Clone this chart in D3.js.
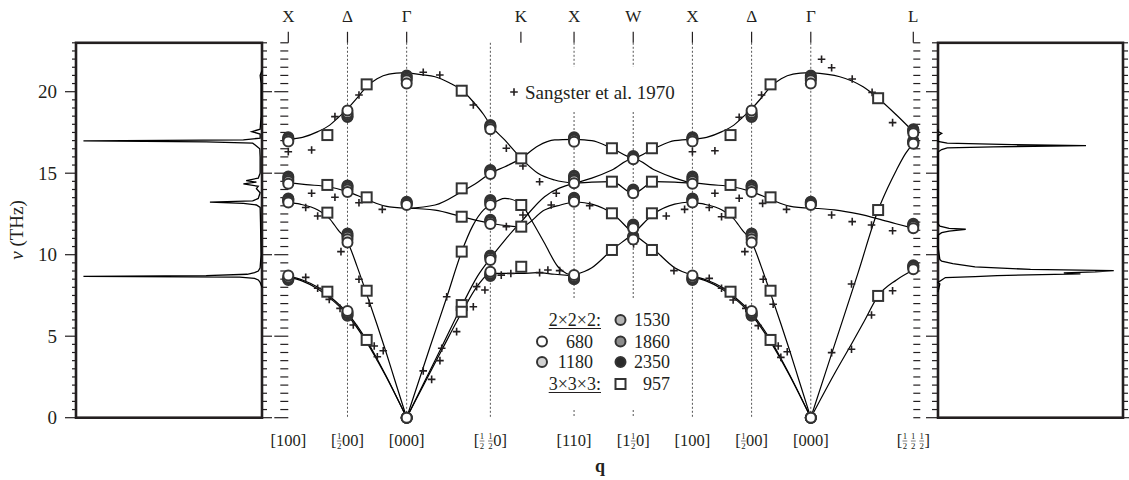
<!DOCTYPE html>
<html><head><meta charset="utf-8">
<script src="https://cdn.jsdelivr.net/npm/d3@7"></script>
<style>
body{margin:0;background:#fff}
text{font-family:"Liberation Serif","Times New Roman",serif;fill:#231f20}
</style></head>
<body><svg id="c" width="1129" height="480"></svg>
<script>
// ---------------- DATA ----------------
const specialQ   = [0, 0.5, 1, 1.707, 1.965, 2.414, 2.914, 3.414, 3.914, 4.414, 5.28];
const topLabels  = ["X","Δ","Γ","","K","X","W","X","Δ","Γ","L"];
// bottom labels: tokens, {f:[num,den]} = stacked fraction, null = no label
const bottomLabels = [
  ["[100]"], ["[", {f:["1","2"]}, "00]"], ["[000]"],
  ["[", {f:["1","2"]}, {sp:3}, {f:["1","2"]}, "0]"], null, ["[110]"],
  ["[1", {f:["1","2"]}, "0]"], ["[100]"], ["[", {f:["1","2"]}, "00]"], ["[000]"],
  ["[", {f:["1","2"]}, {sp:3}, {f:["1","2"]}, {sp:3}, {f:["1","2"]}, "]"]
];
const dottedAt = [0.5, 1, 1.707, 2.414, 2.914, 3.414, 3.914, 4.414];
const yTicksMajor = [0, 5, 10, 15, 20];

// Lattice-dynamics curves, per path segment (local q from segment start)
const segXG_start = [0, 3.414];     // X -> Delta -> Gamma
const segGK_start = [1.0];          // Gamma -> [1/2 1/2 0] -> K -> X
const segXW_start = [2.414];        // X -> W -> X
const segGL_start = [4.414];        // Gamma -> L

const XG_LO  = [[0,17.08],[0.12,17.2],[0.25,17.55],[0.35,17.95],[0.42,18.4],[0.5,18.95],[0.58,19.6],[0.66,20.3],[0.75,20.8],[0.85,21.08],[1,21.17]];
const XG_TO  = [[0,14.42],[0.15,14.3],[0.34,14.17],[0.5,13.87],[0.66,13.4],[0.82,12.98],[1,12.85]];
const XG_LA  = [[0,13.21],[0.1,13.1],[0.25,12.74],[0.35,12.2],[0.42,11.52],[0.5,10.8],[0.58,9.3],[0.66,7.63],[0.75,5.7],[0.82,4.15],[0.9,2.3],[1,0]];
const XG_TA1 = [[0,8.69],[0.12,8.45],[0.25,8.0],[0.35,7.45],[0.5,6.42],[0.66,4.77],[0.82,2.65],[1,0]];
const XG_TA2 = [[0,8.62],[0.12,8.38],[0.25,7.9],[0.35,7.35],[0.5,6.3],[0.66,4.65],[0.82,2.6],[1,0]];

const GK_LO  = [[0,21.17],[0.12,21.05],[0.24,20.92],[0.36,20.55],[0.465,20.1],[0.56,19.4],[0.65,18.6],[0.707,17.96],[0.828,17.04],[0.968,15.91],[1.109,15.0],[1.25,14.58],[1.414,14.38]];
const GK_TO1 = [[0,12.85],[0.24,13.05],[0.465,13.87],[0.6,14.45],[0.707,15.0],[0.83,15.4],[0.968,15.91],[1.109,16.67],[1.25,17.04],[1.414,17.08]];
const GK_TO2 = [[0,12.85],[0.24,12.74],[0.465,12.33],[0.707,11.93],[0.968,11.72],[1.165,12.74],[1.3,13.05],[1.414,13.25]];
const GK_LA  = [[0,0],[0.2,4.4],[0.34,7.42],[0.465,10.19],[0.56,11.8],[0.65,12.75],[0.707,13.05],[0.83,13.46],[0.968,13.1],[1.053,12.13],[1.165,10.7],[1.278,9.26],[1.35,8.85],[1.414,8.75]];
const GK_TA1 = [[0,0],[0.15,2.2],[0.3,4.4],[0.465,6.85],[0.6,8.7],[0.707,9.78],[0.83,10.9],[0.968,12.03],[1.165,13.56],[1.414,14.38]];
const GK_TA2 = [[0,0],[0.15,2.1],[0.3,4.2],[0.465,6.45],[0.6,8.1],[0.707,8.86],[0.85,8.85],[0.968,8.85],[1.1,8.9],[1.25,8.8],[1.414,8.7]];

const XW_U1 = [[0,17.08],[0.15,17.0],[0.32,16.53],[0.5,15.95],[0.68,16.53],[0.85,17.0],[1,17.08]];
const XW_U2 = [[0,14.38],[0.15,14.7],[0.32,15.2],[0.5,15.9],[0.68,15.2],[0.85,14.7],[1,14.38]];
const XW_M  = [[0,14.38],[0.15,14.45],[0.32,14.48],[0.5,13.77],[0.68,14.48],[0.85,14.45],[1,14.38]];
const XW_L1 = [[0,13.25],[0.15,13.1],[0.32,12.54],[0.5,11.3],[0.68,10.29],[0.85,9.2],[1,8.75]];
const XW_L2 = [[0,8.75],[0.15,9.2],[0.32,10.29],[0.5,11.3],[0.68,12.54],[0.85,13.1],[1,13.25]];

const GL_LO = [[0,21.17],[0.245,20.92],[0.442,20.3],[0.569,19.6],[0.724,18.57],[0.866,17.55]];
const GL_TO = [[0,12.85],[0.2,12.75],[0.4,12.5],[0.569,12.2],[0.72,11.9],[0.866,11.62]];
const GL_LA = [[0,0],[0.2,4.45],[0.4,8.9],[0.569,12.74],[0.65,14.1],[0.724,15.2],[0.8,16.2],[0.866,16.83]];
const GL_TA = [[0,0],[0.2,2.7],[0.35,4.6],[0.45,5.9],[0.569,7.47],[0.724,8.45],[0.866,9.06]];

// Sangster et al. 1970 (absolute q, THz)
const sangster = [
 [1.14,21.19],[1.28,21.02],[0.597,19.8],[0.394,18.47],[1.563,19.18],[0.197,16.42],[0.0,16.32],[0.197,13.77],[0.394,13.52],[0.597,13.19],
 [0.794,12.78],[0.147,12.9],[0.248,12.37],[0.445,10.19],[0.597,8.49],[0.684,7.02],[0.147,8.61],[0.248,7.94],[0.346,7.26],[0.437,6.71],
 [0.549,5.69],[0.726,4.4],[0.802,4.11],[0.752,3.74],[1.338,7.42],[1.422,5.28],[1.296,4.26],[1.281,3.5],[1.14,2.87],[1.211,2.35],
 [1.591,8.04],[1.661,7.83],[1.563,6.81],
 [1.842,16.53],[1.982,15.44],[2.123,14.48],[2.264,13.77],[2.221,13.05],[1.982,12.44],[1.842,11.72],[1.799,8.75],[1.88,8.85],
 [2.123,8.9],[2.193,9.06],[2.292,9.02],[2.546,13.01],[2.917,10.66],[3.193,12.37],[3.348,12.78],[3.258,9.02],[3.414,16.32],
 [4.505,21.99],[4.59,21.47],[4.764,20.78],[4.932,19.96],[5.105,18.1],[3.998,19.8],[3.809,18.43],[3.604,16.38],[3.604,13.77],
 [3.809,13.46],[4.007,13.15],[4.209,12.78],[3.556,12.9],[3.66,12.33],[3.857,10.19],[4.012,8.49],[4.096,6.96],[3.556,8.55],
 [3.66,7.94],[3.758,7.22],[3.865,6.71],[3.97,5.65],[4.139,4.4],[4.215,4.05],[4.161,3.7],[4.59,12.44],[4.764,12.03],[4.927,11.82],
 [5.105,11.47],[4.758,8.2],[4.59,3.99],[4.758,4.2],[4.927,6.3],[5.105,7.79]
];

// 3x3x3 MD, 957 K
const md957 = [
 [0.662,20.45],[0.33,17.34],[1.465,20.06],[0.33,14.28],[0.662,13.52],[0.33,12.58],[1.465,14.07],[1.465,12.33],[1.465,10.19],
 [0.33,7.73],[0.662,7.79],[0.662,4.77],[1.465,6.91],[1.465,6.5],
 [1.968,15.91],[1.968,13.05],[1.968,11.72],[1.968,9.26],
 [2.734,16.53],[3.072,16.53],[2.734,14.48],[3.072,14.48],[2.734,12.54],[3.072,12.54],[2.734,10.29],[3.072,10.29],
 [4.074,20.45],[3.736,17.34],[4.983,19.6],[3.736,14.28],[4.074,13.52],[3.736,12.58],[4.983,12.74],[3.736,7.73],[4.074,7.79],
 [4.074,4.77],[4.983,7.47]
];

// 2x2x2 MD at special points
const mdQ = [0,0,0,0, 0.5,0.5,0.5,0.5, 1,1,1, 1.707,1.707,1.707,1.707,1.707,1.707,
             2.414,2.414,2.414,2.414, 2.914,2.914,2.914,2.914, 3.414,3.414,3.414,3.414,
             3.914,3.914,3.914,3.914, 4.414,4.414,4.414, 5.28,5.28,5.28,5.28];
const md2350 = [17.2,14.8,13.45,8.45, 18.45,14.25,11.3,6.25, 21.0,13.25,0, 17.95,15.2,13.35,12.15,9.95,8.7,
                17.2,14.85,13.5,8.5, 16.05,14.0,11.85,11.15, 17.2,14.8,13.45,8.45, 18.45,14.25,11.3,6.25, 21.0,13.25,0, 17.7,17.0,11.9,9.35];
const md1860 = [17.15,14.7,13.4,8.5, 18.5,14.2,11.2,6.3, 20.9,13.2,0, 17.9,15.15,13.3,12.1,9.9,8.75,
                17.15,14.75,13.45,8.55, 16.0,13.95,11.8,11.1, 17.15,14.7,13.4,8.5, 18.5,14.2,11.2,6.3, 20.9,13.2,0, 17.65,16.95,11.85,9.3];
const md1530 = [17.1,14.6,13.35,8.55, 18.6,14.1,11.1,6.4, 20.8,13.15,0, 17.85,15.1,13.2,12.05,9.85,8.8,
                17.1,14.65,13.4,8.6, 15.95,13.9,11.75,11.05, 17.1,14.6,13.35,8.55, 18.6,14.1,11.1,6.4, 20.8,13.15,0, 17.6,16.9,11.8,9.25];
const md1180 = [17.05,14.5,13.3,8.6, 18.7,14.0,10.95,6.45, 20.7,13.1,0, 17.8,15.05,13.15,12.0,9.8,8.85,
                17.05,14.55,13.35,8.65, 15.9,13.85,11.7,11.0, 17.05,14.5,13.3,8.6, 18.7,14.0,10.95,6.45, 20.7,13.1,0, 17.55,16.85,11.75,9.2];
const md680  = [16.95,14.35,13.2,8.72, 18.85,13.85,10.75,6.55, 20.5,13.05,0, 17.7,14.95,13.05,11.88,9.67,8.95,
                16.93,14.38,13.25,8.75, 15.85,13.77,11.62,10.94, 16.95,14.35,13.2,8.72, 18.85,13.85,10.75,6.55, 20.5,13.05,0, 17.45,16.8,11.62,9.1];
const mdTemps = ["2350","1860","1530","1180","680"];

// densities of states [frequency THz, relative density]
const dosLeft = [[8.0,0],[8.3,0.01],[8.45,0.02],[8.55,0.04],[8.62,0.12],[8.67,0.96],[8.72,0.3],[8.8,0.08],[8.9,0.04],[9.0,0.02],[9.2,0.01],
 [10,0.005],[12,0.008],[12.9,0.01],[13.05,0.03],[13.15,0.1],[13.23,0.28],[13.3,0.05],[13.45,0.02],[13.8,0.01],[14.05,0.03],[14.2,0.02],
 [14.35,0.1],[14.45,0.03],[14.55,0.085],[14.7,0.02],[15,0.01],[16.0,0.01],[16.5,0.012],[16.72,0.035],[16.84,0.05],[16.92,0.3],[16.98,0.96],
 [17.05,0.1],[17.15,0.01],[17.4,0.01],[17.55,0.055],[17.7,0.01],[18.5,0.005],[20.5,0.005],[21,0.01],[21.3,0]];
const dosRight = [[7.7,0],[8.2,0.01],[8.3,0.0],[8.45,0.02],[8.6,0.04],[8.66,0.2],[8.72,0.32],[8.82,0.77],[8.88,0.68],[8.95,0.85],[9.02,0.95],
 [9.1,0.5],[9.25,0.2],[9.45,0.08],[9.6,0.02],[9.7,0.01],[10.5,0.0],[11.2,0.0],[11.35,0.02],[11.45,0.06],[11.56,0.15],[11.62,0.06],
 [11.75,0.01],[11.9,0.0],[16.3,0.0],[16.45,0.02],[16.55,0.05],[16.62,0.3],[16.69,0.8],[16.75,0.4],[16.85,0.05],[16.95,0.0],[17.3,0.0],
 [17.45,0.02],[17.55,0.0],[17.7,0]];

// ---------------- DRAWING ----------------
const svg = d3.select("#c");
const INK = "#231f20";
const y = d3.scaleLinear().domain([0,23]).range([417.7,42.8]);
const x = d3.scaleLinear().domain([0,5.28]).range([288.3,913.3]);
const xl = d3.scaleLinear().domain([0,1]).range([262,76]);
const xr = d3.scaleLinear().domain([0,1]).range([938,1123]);
const yTicks = d3.range(0,23.01,0.5);

function frame(x0,x1){
  svg.append("rect").attr("x",x0).attr("y",y(23)).attr("width",x1-x0).attr("height",y(0)-y(23))
    .attr("fill","none").attr("stroke",INK).attr("stroke-width",2.6);
}
function ticks(xpos, dir, lenMinor, lenMajor){
  svg.append("g").selectAll("line").data(yTicks).join("line")
    .attr("x1",xpos).attr("x2",d=>xpos+dir*(d%5===0?lenMajor:lenMinor))
    .attr("y1",d=>y(d)).attr("y2",d=>y(d)).attr("stroke",INK).attr("stroke-width",1.2);
}

// left DOS panel
frame(76,262);
ticks(76,-1,4,11);
ticks(262,1,5,10);
svg.append("g").selectAll("text").data(yTicksMajor).join("text")
  .attr("x",57).attr("y",d=>y(d)+6.5).attr("text-anchor","end").attr("font-size",19).text(d=>d);
svg.append("text").attr("transform","translate(23,230) rotate(-90)").attr("text-anchor","middle").attr("font-size",19)
  .call(t=>{t.append("tspan").attr("font-style","italic").text("ν");t.append("tspan").text(" (THz)");});
svg.append("path").datum(dosLeft).attr("fill","none").attr("stroke","#000").attr("stroke-width",1.3)
  .attr("d",d3.line().x(d=>xl(d[1])).y(d=>y(d[0])));

// right DOS panel
frame(938,1123);
ticks(938,-1,6,12);
ticks(1123,1,5,10);
svg.append("path").datum(dosRight).attr("fill","none").attr("stroke","#000").attr("stroke-width",1.3)
  .attr("d",d3.line().x(d=>xr(d[1])).y(d=>y(d[0])));

// main panel ticks
ticks(288.3,-1,8,14);
ticks(913.3,1,7,7);

// dotted verticals (with gaps behind the legends)
const gapped = {"2.414":true,"2.914":true};
dottedAt.forEach(q=>{
  const segs = gapped[q] ? [[y(23),67],[112,298],[410,y(0)]] : [[y(23),y(0)]];
  segs.forEach(s=>svg.append("line").attr("x1",x(q)).attr("x2",x(q)).attr("y1",s[0]).attr("y2",s[1])
    .attr("stroke","#555").attr("stroke-width",1).attr("stroke-dasharray","2,2"));
});

// top ticks + labels
specialQ.forEach((q,i)=>{
  if(!topLabels[i]) return;
  svg.append("line").attr("x1",x(q)).attr("x2",x(q)).attr("y1",y(23)).attr("y2",y(23)-11).attr("stroke",INK).attr("stroke-width",1.2);
  svg.append("text").attr("x",x(q)).attr("y",22).attr("text-anchor","middle").attr("font-size",17).text(topLabels[i]);
});

// bottom labels with stacked fractions: one <text> per label, pieces as positioned tspans
const meas = svg.append("text").attr("x",-999).attr("y",-999);
function textW(s, size){ meas.attr("font-size",size).text(s); return meas.node().getComputedTextLength(); }
function drawLabel(cx, base, tokens, size){
  const fs = 8.8;
  let pos = 0; const pieces = []; const bars = [];
  tokens.forEach(tk=>{
    if(typeof tk==="string"){ pieces.push({x:pos,y:base,s:tk,fs:size}); pos += textW(tk,size); }
    else if(tk.sp){ pos += tk.sp; }
    else {
      const w = textW(tk.f[0],fs);
      pieces.push({x:pos+0.5,y:base-7,s:tk.f[0],fs:fs});
      pieces.push({x:pos+0.5,y:base+3.3,s:tk.f[1],fs:fs});
      bars.push([pos+0.3,pos+w+0.7]);
      pos += w+1;
    }
  });
  const off = cx-pos/2;
  const t = svg.append("text");
  pieces.forEach(p=>t.append("tspan").attr("x",off+p.x).attr("y",p.y).attr("font-size",p.fs).text(p.s));
  bars.forEach(b=>svg.append("line").attr("x1",off+b[0]).attr("x2",off+b[1]).attr("y1",base-5).attr("y2",base-5)
    .attr("stroke",INK).attr("stroke-width",0.6));
}
specialQ.forEach((q,i)=>{ if(bottomLabels[i]) drawLabel(x(q),446,bottomLabels[i],16.5); });
meas.remove();
svg.append("text").attr("x",600).attr("y",472).attr("text-anchor","middle").attr("font-size",18).attr("font-weight","bold").text("q");

// dispersion curves
const line = d3.line().x(d=>x(d[0])).y(d=>y(d[1])).curve(d3.curveMonotoneX);
function drawSeg(starts, branches){
  starts.forEach(s=>branches.forEach(b=>{
    svg.append("path").datum(b.map(p=>[s+p[0],p[1]])).attr("fill","none").attr("stroke","#000").attr("stroke-width",1.2).attr("d",line);
  }));
}
drawSeg(segXG_start,[XG_LO,XG_TO,XG_LA,XG_TA1,XG_TA2]);
drawSeg(segGK_start,[GK_LO,GK_TO1,GK_TO2,GK_LA,GK_TA1,GK_TA2]);
drawSeg(segXW_start,[XW_U1,XW_U2,XW_M,XW_L1,XW_L2]);
drawSeg(segGL_start,[GL_LO,GL_TO,GL_LA,GL_TA]);

// Sangster pluses
const plusPath = "M-3.8,0H3.8M0,-3.8V3.8";
svg.append("g").selectAll("path").data(sangster).join("path")
  .attr("transform",d=>`translate(${x(d[0])},${y(d[1])})`).attr("d",plusPath)
  .attr("stroke",INK).attr("stroke-width",1.6);

// MD markers
const circFill = {"680":"#ffffff","1180":"#d2d2d2","1530":"#b4b4b4","1860":"#8c8c8c","2350":"#2a2a2a"};
const mdSets = {"2350":md2350,"1860":md1860,"1530":md1530,"1180":md1180,"680":md680};
svg.append("g").selectAll("rect").data(md957).join("rect")
  .attr("x",d=>x(d[0])-5).attr("y",d=>y(d[1])-5).attr("width",10).attr("height",10)
  .attr("fill","#fff").attr("stroke","#333").attr("stroke-width",2);
mdTemps.forEach(T=>{
  svg.append("g").selectAll("circle").data(mdSets[T]).join("circle")
    .attr("cx",(d,i)=>x(mdQ[i])).attr("cy",d=>y(d)).attr("r",5)
    .attr("fill",circFill[T]).attr("stroke","#333").attr("stroke-width",2);
});

// legends
svg.append("path").attr("transform","translate(514,92)").attr("d",plusPath).attr("stroke",INK).attr("stroke-width",1.6);
svg.append("text").attr("x",525).attr("y",98.5).attr("font-size",19).text("Sangster et al. 1970");

const rows = [320,341.5,362,384];
function uText(xr_,yc,txt){
  const t = svg.append("text").attr("x",xr_).attr("y",yc+6).attr("text-anchor","end").attr("font-size",18).text(txt);
  const w = t.node().getComputedTextLength();
  svg.append("line").attr("x1",xr_-w).attr("x2",xr_).attr("y1",yc+8.5).attr("y2",yc+8.5).attr("stroke",INK).attr("stroke-width",1);
}
uText(601,rows[0],"2×2×2:");
uText(601,rows[3],"3×3×3:");
const legItems = [["680",542,rows[1],593],["1180",542,rows[2],593],["1530",620.5,rows[0],670],["1860",620.5,rows[1],670],["2350",620.5,rows[2],670]];
legItems.forEach(([T,cx,cy,tx])=>{
  svg.append("circle").attr("cx",cx).attr("cy",cy).attr("r",5).attr("fill",circFill[T]).attr("stroke","#333").attr("stroke-width",2);
  svg.append("text").attr("x",tx).attr("y",cy+6).attr("text-anchor","end").attr("font-size",18).text(T);
});
svg.append("rect").attr("x",615.5).attr("y",rows[3]-5).attr("width",10).attr("height",10).attr("fill","#fff").attr("stroke","#333").attr("stroke-width",2);
svg.append("text").attr("x",670).attr("y",rows[3]+6).attr("text-anchor","end").attr("font-size",18).text("957");
</script></body></html>
